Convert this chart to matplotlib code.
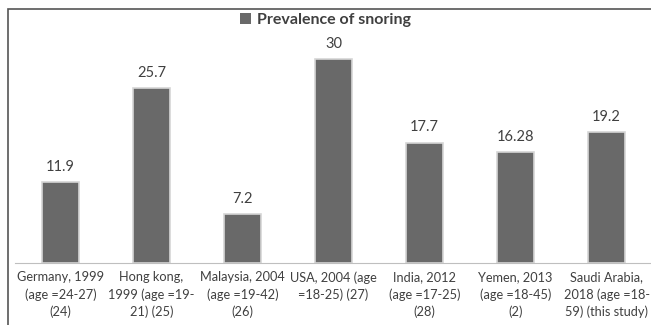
import matplotlib.pyplot as plt
from matplotlib.patches import Rectangle

# data
studies = ["Germany, 1999\n(age =24-27)\n(24)",
           "Hong kong,\n1999 (age =19-\n21) (25)",
           "Malaysia, 2004\n(age =19-42)\n(26)",
           "USA, 2004 (age\n=18-25) (27)",
           "India, 2012\n(age =17-25)\n(28)",
           "Yemen, 2013\n(age =18-45)\n(2)",
           "Saudi Arabia,\n2018 (age =18-\n59) (this study)"]
prevalence = [11.9, 25.7, 7.2, 30, 17.7, 16.28, 19.2]
value_labels = ["11.9", "25.7", "7.2", "30", "17.7", "16.28", "19.2"]

plt.rcParams['font.family'] = ['Lato', 'DejaVu Sans']
txt = '#404040'

fig = plt.figure(figsize=(6.51, 3.25), dpi=100)
W, H = 651, 325
ax = fig.add_axes([15 / W, 1 - 263 / H, 637 / W, 238 / H])

bars = ax.bar(range(len(prevalence)), prevalence, width=0.4, color='#696969',
              edgecolor='#d6d6d6', linewidth=1.2, label='Prevalence of snoring')
for b, lab in zip(bars, value_labels):
    ax.text(b.get_x() + b.get_width() / 2, b.get_height() + 1.2, lab,
            ha='center', va='bottom', fontsize=10.5, color=txt)

ax.set_xlim(-0.5, len(prevalence) - 0.5)
ax.set_ylim(0, 35)
ax.set_yticks([])
ax.set_xticks(range(len(prevalence)))
ax.set_xticklabels(studies, fontsize=9.2, color=txt, linespacing=1.45)
ax.tick_params(axis='x', length=0, pad=6)
for s in ['top', 'right', 'left']:
    ax.spines[s].set_visible(False)
ax.spines['bottom'].set_color('#bfbfbf')

leg = fig.legend(loc='center', bbox_to_anchor=(0.5, 1 - 20 / H), frameon=False,
                 handlelength=0.7, handleheight=0.7, handletextpad=0.4,
                 prop={'weight': 'bold', 'size': 11.5})
for t in leg.get_texts():
    t.set_color(txt)
leg.legend_handles[0].set_edgecolor('none')

# outer frame (cropped at right/bottom)
fig.patches.append(Rectangle((8 / W, -0.1), 1.2, 1 - 9 / H + 0.1, transform=fig.transFigure,
                             fill=False, edgecolor='#555555', linewidth=1.2))

fig.savefig('out.png', dpi=100)
